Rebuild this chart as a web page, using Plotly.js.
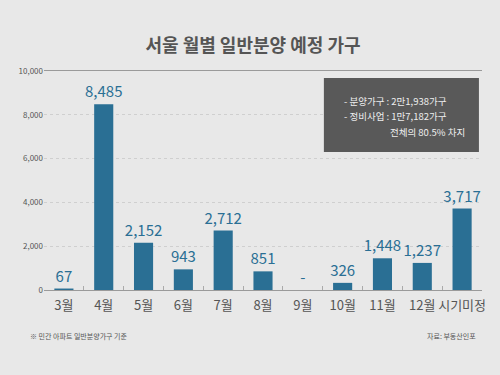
<!DOCTYPE html>
<html><head><meta charset="utf-8">
<script src="https://cdn.plot.ly/plotly-3.0.1.min.js"></script>
<style>html,body{margin:0;padding:0;background:#e8e8e8;}#c{width:500px;height:375px;}</style>
</head><body><div id="c"></div>
<script>
const categories = ['3월','4월','5월','6월','7월','8월','9월','10월','11월','12월','시기미정'];
const values = [67, 8485, 2152, 943, 2712, 851, 0, 326, 1448, 1237, 3717];
const labels = ['67','8,485','2,152','943','2,712','851','-','326','1,448','1,237','3,717'];
const yTicks = [0, 2000, 4000, 6000, 8000, 10000];
const yTickText = ['0','2,000','4,000','6,000','8,000','10,000'];

const font = '"Noto Sans CJK KR", "Noto Sans", sans-serif';
const blue = '#2a6f94';

const trace = {
  type: 'bar', x: categories, y: values, text: labels,
  textposition: 'outside', cliponaxis: false, constraintext: 'none',
  textfont: {family: font, size: 15, color: blue},
  marker: {color: blue}, hoverinfo: 'none'
};

const layout = {
  width: 500, height: 375,
  paper_bgcolor: '#e8e8e8', plot_bgcolor: '#e8e8e8',
  margin: {l: 44, r: 18, t: 71, b: 85},
  bargap: 0.52, showlegend: false,
  font: {family: font},
  uniformtext: {mode: false},
  title: {text: '<b>서울 월별 일반분양 예정 가구</b>', x: 0.506, xanchor: 'center', y: 0.878, yanchor: 'middle',
          font: {family: font, size: 18, color: '#555'}},
  xaxis: {type: 'category', showline: true, mirror: true, linecolor: '#9a9a9a', linewidth: 1,
          ticks: 'inside', tickson: 'boundaries', ticklen: 4, tickcolor: '#aaa', tickangle: 0,
          ticklabelstandoff: 3,
          tickfont: {family: font, size: 13, color: '#555'}, fixedrange: true},
  yaxis: {range: [0, 10000], tickvals: yTicks, ticktext: yTickText, showgrid: true,
          gridcolor: '#cfcfcf', griddash: 'dot', zeroline: false, showline: false,
          ticks: '', ticklen: 0, tickfont: {family: font, size: 8, color: '#555'}, fixedrange: true},
  shapes: [{type: 'rect', xref: 'paper', yref: 'paper', x0: 0.639, x1: 0.993, y0: 0.630, y1: 0.968,
            fillcolor: '#595959', line: {width: 0}}],
  annotations: [
    {xref: 'paper', yref: 'paper', x: 0.68, y: 0.862, xanchor: 'left', yanchor: 'middle', showarrow: false,
     text: '- 분양가구 : 2만1,938가구', font: {family: font, size: 9.5, color: '#eeeeee'}},
    {xref: 'paper', yref: 'paper', x: 0.68, y: 0.794, xanchor: 'left', yanchor: 'middle', showarrow: false,
     text: '- 정비사업 : 1만7,182가구', font: {family: font, size: 9.5, color: '#eeeeee'}},
    {xref: 'paper', yref: 'paper', x: 0.785, y: 0.722, xanchor: 'left', yanchor: 'middle', showarrow: false,
     text: '전체의 80.5% 차지', font: {family: font, size: 9.5, color: '#eeeeee'}},
    {xref: 'paper', yref: 'paper', x: -0.037, y: -0.21, xanchor: 'left', yanchor: 'middle', showarrow: false,
     text: '※ 민간 아파트 일반분양가구 기준', font: {family: font, size: 7, color: '#555'}},
    {xref: 'paper', yref: 'paper', x: 0.99, y: -0.21, xanchor: 'right', yanchor: 'middle', showarrow: false,
     text: '자료: 부동산인포', font: {family: font, size: 7, color: '#555'}}
  ]
};
Plotly.newPlot('c', [trace], layout, {displayModeBar: false, staticPlot: true});
</script></body></html>
